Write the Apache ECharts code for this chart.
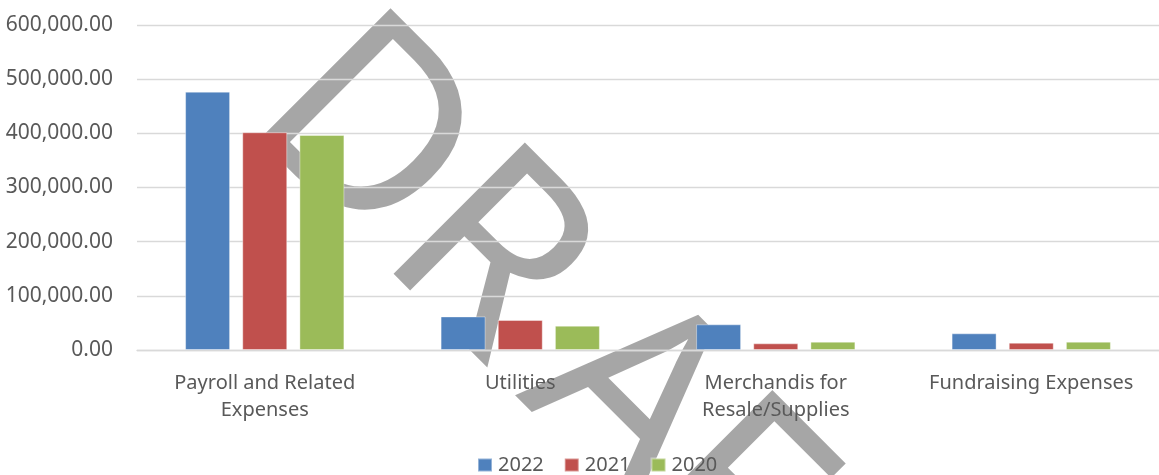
<!DOCTYPE html>
<html>
<head>
<meta charset="utf-8">
<script src="https://cdn.jsdelivr.net/npm/echarts@6/dist/echarts.min.js"></script>
<style>
  html, body { margin: 0; padding: 0; background: #fff; }
  #chart { width: 1159px; height: 475px; }
</style>
</head>
<body>
<div id="chart"></div>
<script>
// categories and values
const categories = [
  "Payroll and Related\nExpenses",
  "Utilities",
  "Merchandis for\nResale/Supplies",
  "Fundraising Expenses",
];
const years = ["2022", "2021", "2020"];
const values2022 = [477000, 62000, 47400, 30800];
const values2021 = [402000, 55400, 12300, 13500];
const values2020 = [397000, 44900, 15400, 15400];

const colors = ["#4F81BD", "#C0504D", "#9BBB59"];
const textColor = "#595959";
const gridColor = "#D9D9D9";
const font = '"Noto Sans", sans-serif';

const chart = echarts.init(document.getElementById("chart"));

const makeSeries = (name, data, color) => ({
  name,
  type: "bar",
  data,
  barWidth: 45,
  barGap: "27%",
  itemStyle: {
    color,
    borderColor: "rgba(255,255,255,0.4)",
    borderWidth: 1,
  },
  animation: false,
});

// "DRAFT" watermark, letters laid along a 45 degree baseline
const wmFill = "rgba(0,0,0,0.35)";
const wmLetters = [["D", -24], ["R", 166], ["A", 363], ["F", 516], ["T", 670]];

const option = {
  animation: false,
  grid: { left: 137, top: 25, width: 1031, height: 325, containLabel: false },
  legend: {
    data: years,
    left: 477,
    top: 455,
    padding: 0,
    itemWidth: 14,
    itemHeight: 13,
    itemGap: 20,
    icon: "rect",
    textStyle: { color: textColor, fontSize: 20, fontFamily: font, padding: [0, 0, 0, 1] },
  },
  xAxis: {
    type: "category",
    data: categories,
    axisTick: { show: false },
    axisLine: { lineStyle: { color: gridColor, width: 1.3 } },
    axisLabel: {
      color: textColor,
      fontSize: 20,
      fontFamily: font,
      lineHeight: 27,
      margin: 20,
      interval: 0,
    },
  },
  yAxis: {
    type: "value",
    min: 0,
    max: 600000,
    interval: 100000,
    axisLine: { show: false },
    axisTick: { show: false },
    splitLine: { lineStyle: { color: gridColor, width: 1.3 } },
    axisLabel: {
      color: textColor,
      fontSize: 21,
      fontFamily: font,
      margin: 24,
      formatter: (v) => v.toLocaleString("en-US", { minimumFractionDigits: 2, maximumFractionDigits: 2 }),
    },
  },
  series: [
    makeSeries(years[0], values2022, colors[0]),
    makeSeries(years[1], values2021, colors[1]),
    makeSeries(years[2], values2020, colors[2]),
  ],
  graphic: [
    {
      type: "group",
      x: 257,
      y: 140,
      rotation: -Math.PI / 4,
      z: 100,
      silent: true,
      children: wmLetters.map(([ch, x]) => ({
        type: "text",
        x,
        y: -76,
        style: {
          text: ch,
          font: '260px "Noto Sans"',
          fill: wmFill,
          textAlign: "left",
          textVerticalAlign: "middle",
        },
      })),
    },
  ],
};

chart.setOption(option);
</script>
</body>
</html>
